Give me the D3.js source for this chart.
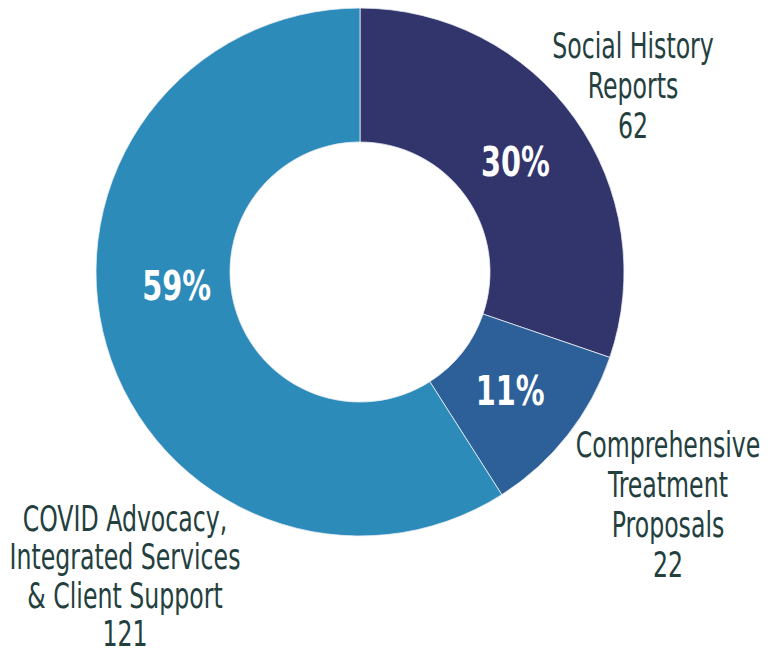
<!DOCTYPE html>
<html>
<head>
<meta charset="utf-8">
<script src="https://cdn.jsdelivr.net/npm/d3@7"></script>
<style>
  html, body { margin: 0; padding: 0; background: #fff; }
  svg { display: block; }
  text { font-family: "Liberation Sans Narrow", "Arial Narrow", "DejaVu Sans Condensed", sans-serif; }
</style>
</head>
<body>
<div id="chart"></div>
<script>
// data
var categories = [
  ['Social History', 'Reports'],
  ['Comprehensive', 'Treatment', 'Proposals'],
  ['COVID Advocacy,', 'Integrated Services', '& Client Support']
];
var counts = [62, 22, 121];
var colors = ['#32356c', '#2d5f98', '#2d8bba'];

// layout
var width = 776, height = 654;
var cx = 360, cy = 272, outerR = 264, innerR = 130;
// outer label block centres (x, y of first baseline, line step)
var labelAnchor = [[633, 58, 40], [668, 457, 40], [125, 531, 38.5]];
var squeeze = 0.73;

var svg = d3.select('#chart').append('svg')
  .attr('width', width)
  .attr('height', height);

var g = svg.append('g').attr('transform', 'translate(' + cx + ',' + cy + ')');

var total = d3.sum(counts);
var pie = d3.pie().sort(null).value(function (d) { return d; });
var arcs = pie(counts);

var arc = d3.arc().innerRadius(innerR).outerRadius(outerR);
var labelArc = d3.arc().innerRadius(innerR - 6).outerRadius(outerR - 6);

g.selectAll('path.slice')
  .data(arcs)
  .enter()
  .append('path')
  .attr('class', 'slice')
  .attr('d', arc)
  .attr('fill', function (d, i) { return colors[i]; })
  .attr('stroke', '#e8eef5')
  .attr('stroke-width', 0.8);

// percentage labels
g.selectAll('text.pct')
  .data(arcs)
  .enter()
  .append('text')
  .attr('class', 'pct')
  .attr('transform', function (d, i) {
    var c = labelArc.centroid(d);
    if (i === 2) c = [c[0], c[1] - 40]; // big slice label sits higher
    return 'translate(' + c[0] + ',' + c[1] + ') scale(0.78,1)';
  })
  .attr('text-anchor', 'middle')
  .attr('dy', '0.36em')
  .attr('fill', '#fff')
  .attr('font-size', 41)
  .attr('font-weight', 'bold')
  .text(function (d) { return Math.round(d.value / total * 100) + '%'; });

// outer category labels
var lab = svg.selectAll('g.lab')
  .data(categories)
  .enter()
  .append('g')
  .attr('class', 'lab')
  .attr('transform', function (d, i) {
    return 'translate(' + labelAnchor[i][0] + ',' + labelAnchor[i][1] + ') scale(' + squeeze + ',1)';
  });

lab.append('text')
  .attr('text-anchor', 'middle')
  .attr('fill', '#24403e')
  .attr('font-size', 36)
  .selectAll('tspan')
  .data(function (d, i) {
    var step = labelAnchor[i][2];
    return d.concat([String(counts[i])]).map(function (t, j) { return { t: t, y: j * step }; });
  })
  .enter()
  .append('tspan')
  .attr('x', 0)
  .attr('y', function (d) { return d.y; })
  .text(function (d) { return d.t; });
</script>
</body>
</html>
